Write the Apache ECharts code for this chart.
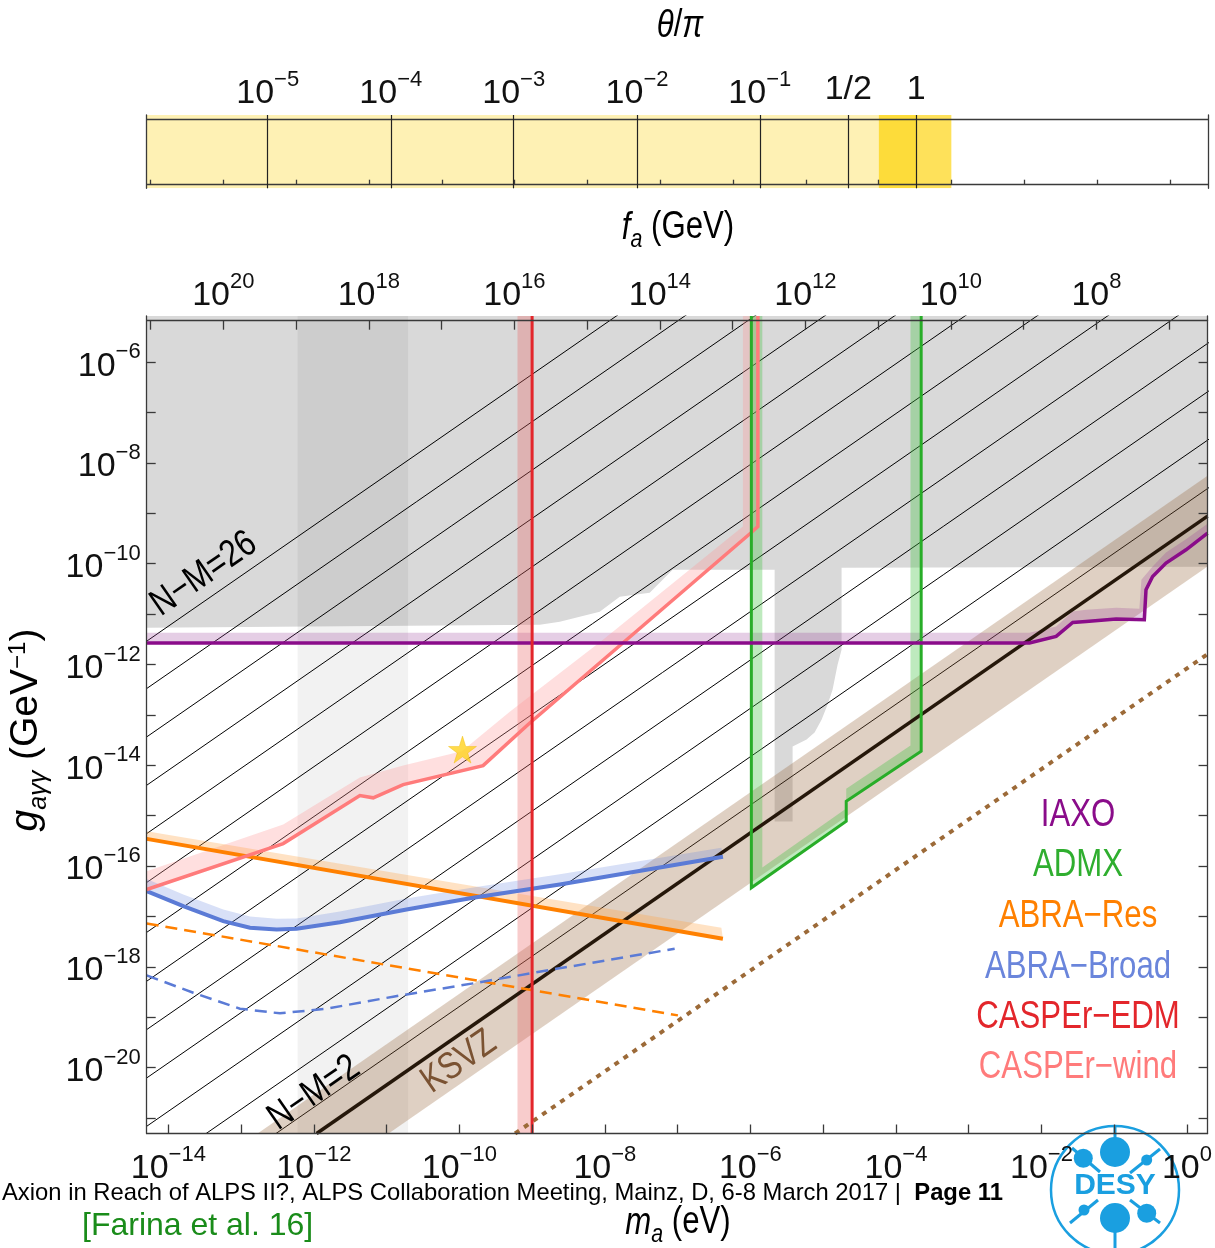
<!DOCTYPE html>
<html><head><meta charset="utf-8">
<script src="https://cdn.jsdelivr.net/npm/echarts@6/dist/echarts.min.js"></script>
<style>html,body{margin:0;padding:0;background:#fff}#c{width:1215px;height:1248px}</style>
</head><body><div id="c"></div>
<script>
// ---------- axis extents (log10 units) ----------
const X_MIN = -14.297, X_MAX = 0.283;      // log10(m_a / eV)
const Y_MIN = -21.31,  Y_MAX = -5.082;     // log10(g / GeV^-1)
const FA_SHIFT = 6.756;                    // log10(f_a/GeV) = FA_SHIFT - log10(m_a/eV)

// ---------- tick values ----------
const X_TICKS  = [-14,-13,-12,-11,-10,-9,-8,-7,-6,-5,-4,-3,-2,-1,0];
const X_LABELS = [-14,-12,-10,-8,-6,-4,-2,0];
const Y_TICKS  = [-21,-20,-19,-18,-17,-16,-15,-14,-13,-12,-11,-10,-9,-8,-7,-6];
const Y_LABELS = [-20,-18,-16,-14,-12,-10,-8,-6];
const FA_TICKS = [7,8,9,10,11,12,13,14,15,16,17,18,19,20,21];
const FA_LABELS = [8,10,12,14,16,18,20];
const THETA_TICK_POS  = [-12.635,-10.945,-9.256,-7.563,-5.877,-4.661,-3.727];
const THETA_TICK_TEXT = ['10^-5','10^-4','10^-3','10^-2','10^-1','1/2','1'];
const THETA_FILL = [[-14.297,-4.243],[-4.243,-3.727],[-3.727,-3.246]];

// ---------- data (log10 m_a, log10 g) ----------
const GRAY_EXCLUDED = [[-14.297,-5.082],[0.283,-5.082],[0.283,-10.060],[-4.747,-10.080],[-4.747,-11.706],[-4.802,-12.003],[-4.871,-12.499],[-4.940,-12.797],[-5.022,-13.095],[-5.118,-13.352],[-5.228,-13.491],[-5.420,-13.626],[-5.420,-15.117],[-5.667,-15.117],[-5.667,-10.119],[-7.068,-10.119],[-7.110,-10.179],[-7.384,-10.576],[-7.796,-10.655],[-8.071,-10.952],[-8.346,-11.052],[-8.620,-11.151],[-8.895,-11.210],[-14.297,-11.270]];
const GRAY_STRIP = [-12.223,-10.704];
const NM_VALUES = [2,4,6,8,10,12,14,16,18,20,22,24,26];
const NM_LINE_OFFSETS = [-8.79,-7.83,-6.87,-5.91,-4.95,-3.99,-3.02,-2.03,-1.06,-0.10,0.86,1.82,2.76];
const KSVZ_LINE = [[-11.962,-21.31],[0.283,-9.054]];
const KSVZ_BAND = [[-12.773,-21.31],[0.283,-8.254],[0.283,-10.054],[-10.973,-21.31]];
const DOTTED_LINE = [[-9.234,-21.31],[0.283,-11.793]];
const IAXO = [[-14.297,-11.573],[-2.165,-11.573],[-1.798,-11.442],[-1.570,-11.165],[-1.386,-11.145],[-0.974,-11.097],[-0.586,-11.111],[-0.563,-10.516],[-0.472,-10.252],[-0.288,-9.986],[-0.013,-9.723],[0.283,-9.391]];
const IAXO_BAND_UPPER = [[-14.297,-11.369],[-2.165,-11.369],[-1.798,-11.244],[-1.570,-10.946],[-1.386,-10.913],[-0.974,-10.873],[-0.654,-10.893],[-0.626,-10.318],[-0.472,-10.054],[-0.288,-9.776],[-0.013,-9.514],[0.283,-9.207]];
const EDM_MASS = -9.0;
const EDM_BAND = [-9.201,-9.0];
const WIND_LINE = [[-14.297,-16.466],[-12.421,-15.554],[-11.367,-14.602],[-11.184,-14.647],[-10.772,-14.384],[-9.674,-14.007],[-9.032,-13.160],[-5.987,-9.380],[-5.897,-9.261],[-5.897,-5.082]];
const WIND_BAND_UPPER = [[-14.297,-16.103],[-12.421,-15.177],[-11.367,-14.245],[-10.772,-14.007],[-9.966,-13.723],[-9.307,-12.936],[-8.026,-11.508],[-6.103,-9.261],[-6.103,-5.082]];
const ADMX_LINE = [[-5.987,-5.082],[-5.987,-16.432],[-4.683,-15.111],[-4.683,-14.715],[-3.653,-13.723],[-3.653,-5.082]];
const ADMX_BAND_INNER = [[-5.836,-5.082],[-5.836,-16.03],[-4.683,-14.86],[-4.683,-14.465],[-3.800,-13.61],[-3.800,-5.082]];
const ABRA_RES = [[-14.297,-15.461],[-6.378,-17.444]];
const ABRA_RES_BAND_UPPER = [[-14.297,-15.310],[-6.399,-17.226]];
const ABRA_RES_FUTURE = [[-14.297,-17.140],[-6.996,-18.965]];
const ABRA_BROAD = [[-14.297,-16.500],[-13.794,-16.797],[-13.245,-17.095],[-12.878,-17.226],[-12.511,-17.259],[-12.237,-17.245],[-11.642,-17.115],[-10.726,-16.863],[-9.811,-16.631],[-8.620,-16.367],[-6.377,-15.817]];
const ABRA_BROAD_BAND_UPPER = [[-14.297,-16.256],[-13.794,-16.565],[-13.245,-16.863],[-12.878,-17.002],[-12.511,-17.047],[-12.237,-17.041],[-11.642,-16.902],[-10.726,-16.645],[-9.811,-16.426],[-8.620,-16.164],[-6.399,-15.639]];
const ABRA_BROAD_FUTURE = [[-14.297,-18.172],[-13.657,-18.515],[-13.015,-18.832],[-12.466,-18.925],[-11.824,-18.832],[-10.910,-18.594],[-9.811,-18.330],[-8.712,-18.053],[-7.041,-17.642]];
const STAR = [-9.957,-13.689];
const LEGEND_NAMES = ['IAXO','ADMX','ABRA\u2212Res','ABRA\u2212Broad','CASPEr\u2212EDM','CASPEr\u2212wind'];

// ---------- styles ----------
const FONT = '"Liberation Sans",Arial,sans-serif';
const NARROW = 0.82;
const AX = '#3a3a3a';
const C = {
  gray:'#d9d9d9', strip:'rgba(0,0,0,0.05)',
  iaxo:'#8a0c8a', iaxoBand:'rgba(150,60,150,0.25)',
  edm:'#e3262b', edmBand:'rgba(235,100,100,0.33)',
  wind:'#ff7b7b', windBand:'rgba(255,150,150,0.3)',
  admx:'#28ad28', admxBand:'rgba(70,195,70,0.35)',
  res:'#ff8000', resBand:'rgba(255,165,70,0.32)',
  broad:'#5b7bd6', broadBand:'rgba(100,130,225,0.25)',
  ksvzBand:'rgba(150,100,55,0.3)', ksvz:'#25170a', dotted:'#9c6a38',
  star:'#ffd21e'
};
const LEGEND_COLORS = [C.iaxo, '#2fae2f', C.res, '#6a85db', C.edm, C.wind];

const TICK_RICH = {
  b:{fontFamily:FONT,fontSize:34,lineHeight:42,verticalAlign:'bottom',color:'#111'},
  s:{fontFamily:FONT,fontSize:22,lineHeight:25,verticalAlign:'top',color:'#111'},
  p:{fontFamily:FONT,fontSize:34,lineHeight:42,color:'#111'}
};
function pow10(e){ e=Math.round(e); return '{b|10}{s|'+(e<0?'\u2212'+(-e):String(e))+'}'; }
function thetaLabel(v){
  let bi=0; THETA_TICK_POS.forEach((p,i)=>{ if(Math.abs(p-v)<Math.abs(THETA_TICK_POS[bi]-v)) bi=i; });
  const t=THETA_TICK_TEXT[bi];
  if(t.startsWith('10^')) return pow10(parseFloat(t.slice(3)));
  return '{p|'+t+'}';
}

function poly(points, fill, z, xi, yi){
  return {type:'custom', xAxisIndex:xi||0, yAxisIndex:yi||0, silent:true, clip:true, z:z,
    data:[points[0]],
    renderItem:(params,api)=>({type:'polygon', shape:{points:points.map(p=>api.coord(p))}, style:{fill:fill}})};
}
function rectX(range, ymin, ymax, fill, z, xi, yi){
  return poly([[range[0],ymin],[range[1],ymin],[range[1],ymax],[range[0],ymax]], fill, z, xi, yi);
}
function band(upper, lower, fill, z){ return poly(upper.concat(lower.slice().reverse()), fill, z); }
function line(points, color, width, z, type){
  return {type:'line', xAxisIndex:0, yAxisIndex:0, data:points, showSymbol:false, symbol:'none', silent:true, clip:true, z:z,
    lineStyle:{color:color, width:width, type:type||'solid', cap:'butt', join:'miter'}};
}

const series = [];
const thetaColors = ['#fef1b4','#fddc3a','#fee15a'];
THETA_FILL.forEach((r,i)=>series.push(rectX(r,0,1,thetaColors[i],1,2,2)));
series.push(poly(GRAY_EXCLUDED, C.gray, 1));
series.push(rectX(GRAY_STRIP, Y_MIN, Y_MAX, C.strip, 2));
NM_LINE_OFFSETS.forEach(c=>series.push(line([[X_MIN-3, X_MIN-3+c],[X_MAX+3, X_MAX+3+c]], '#000', 1, 3)));
series.push(poly(KSVZ_BAND, C.ksvzBand, 4));
series.push(line(KSVZ_LINE, C.ksvz, 3.5, 6));
series.push(line(DOTTED_LINE, C.dotted, 4, 6, [5,6]));
series.push(band(IAXO_BAND_UPPER, IAXO, C.iaxoBand, 5));
series.push(rectX(EDM_BAND, Y_MIN, Y_MAX, C.edmBand, 5));
series.push(band(WIND_BAND_UPPER, WIND_LINE, C.windBand, 5));
series.push(band(ADMX_LINE, ADMX_BAND_INNER, C.admxBand, 5));
series.push(band(ABRA_RES_BAND_UPPER, ABRA_RES, C.resBand, 5));
series.push(band(ABRA_BROAD_BAND_UPPER, ABRA_BROAD, C.broadBand, 5));
series.push(line(ABRA_RES_FUTURE, C.res, 2.5, 7, [12,7]));
series.push(line(ABRA_BROAD_FUTURE, C.broad, 2.5, 7, [12,7]));
series.push(line(ABRA_RES, C.res, 4, 8));
series.push(line(ABRA_BROAD, C.broad, 4, 8));
series.push(line(WIND_LINE, C.wind, 3.5, 8));
series.push(line(ADMX_LINE, C.admx, 3, 9));
series.push(line(IAXO, C.iaxo, 3.5, 9));
series.push(line([[EDM_MASS, Y_MIN],[EDM_MASS, Y_MAX]], C.edm, 3, 10));
series.push({type:'scatter', xAxisIndex:0, yAxisIndex:0, data:[STAR], silent:true, z:11,
  symbol:'path://M50,0 L61,35 L98,35 L68,57 L79,91 L50,70 L21,91 L32,57 L2,35 L39,35 Z',
  symbolSize:[28,27], itemStyle:{color:C.star, borderColor:'#f0b800', borderWidth:0.5}});

const lineAx = {show:true, onZero:false, lineStyle:{color:AX, width:1.3}};
const tickStyle = {color:AX, width:1.3};

const xAxis = [
  {type:'value', gridIndex:0, z:20, position:'bottom', min:X_MIN, max:X_MAX, axisLine:lineAx,
   axisTick:{show:true, inside:true, length:9, customValues:X_TICKS, lineStyle:tickStyle},
   axisLabel:{show:true, customValues:X_LABELS, interval:0, formatter:pow10, rich:TICK_RICH, margin:10},
   splitLine:{show:false}},
  {type:'value', gridIndex:0, z:20, position:'top', offset:-4.7, inverse:true, min:FA_SHIFT-X_MAX, max:FA_SHIFT-X_MIN, axisLine:lineAx,
   axisTick:{show:true, inside:true, length:9, customValues:FA_TICKS, lineStyle:tickStyle},
   axisLabel:{show:true, customValues:FA_LABELS, interval:0, formatter:pow10, rich:TICK_RICH, margin:8},
   splitLine:{show:false}},
  {type:'value', gridIndex:1, z:20, position:'top', min:X_MIN, max:X_MAX, axisLine:{show:false, onZero:false},
   axisTick:{show:true, inside:true, length:73.3, customValues:THETA_TICK_POS, lineStyle:{color:'#222', width:1.2}},
   axisLabel:{show:true, customValues:THETA_TICK_POS, interval:0, formatter:thetaLabel, rich:TICK_RICH, margin:4},
   splitLine:{show:false}},
  {type:'value', gridIndex:1, z:20, position:'top', offset:-4, min:X_MIN, max:X_MAX, axisLine:lineAx,
   axisTick:{show:false}, axisLabel:{show:false}, splitLine:{show:false}},
  {type:'value', gridIndex:1, z:20, position:'bottom', offset:-3.6, inverse:true, min:FA_SHIFT-X_MAX, max:FA_SHIFT-X_MIN, axisLine:lineAx,
   axisTick:{show:true, inside:true, length:5, customValues:FA_TICKS, lineStyle:tickStyle},
   axisLabel:{show:false}, splitLine:{show:false}}
];
const yAxis = [
  {type:'value', gridIndex:0, z:20, position:'left', min:Y_MIN, max:Y_MAX, axisLine:lineAx,
   axisTick:{show:true, inside:true, length:9, customValues:Y_TICKS, lineStyle:tickStyle},
   axisLabel:{show:true, customValues:Y_LABELS, interval:0, formatter:pow10, rich:TICK_RICH, margin:6},
   splitLine:{show:false}},
  {type:'value', gridIndex:0, z:20, position:'right', min:Y_MIN, max:Y_MAX, axisLine:lineAx,
   axisTick:{show:true, inside:true, length:9, customValues:Y_TICKS, lineStyle:tickStyle},
   axisLabel:{show:false}, splitLine:{show:false}},
  {type:'value', gridIndex:1, z:20, position:'left', min:0, max:1, axisLine:lineAx, axisTick:{show:false}, axisLabel:{show:false}, splitLine:{show:false}},
  {type:'value', gridIndex:1, z:20, position:'right', min:0, max:1, axisLine:lineAx, axisTick:{show:false}, axisLabel:{show:false}, splitLine:{show:false}}
];

const TR = {
  i:{fontFamily:FONT, fontStyle:'italic', fontSize:38, lineHeight:44, verticalAlign:'top', color:'#111'},
  n:{fontFamily:FONT, fontSize:38, lineHeight:44, verticalAlign:'top', color:'#111'},
  sb:{fontFamily:FONT, fontStyle:'italic', fontSize:26, lineHeight:30, verticalAlign:'bottom', color:'#111'},
  sp:{fontFamily:FONT, fontSize:24, lineHeight:26, verticalAlign:'top', color:'#111'}
};
const TRL = {
  i:{fontFamily:FONT, fontStyle:'italic', fontSize:39, lineHeight:45, verticalAlign:'top', color:'#111'},
  n:{fontFamily:FONT, fontSize:39, lineHeight:45, verticalAlign:'top', color:'#111'},
  sb:{fontFamily:FONT, fontStyle:'italic', fontSize:25, lineHeight:30, verticalAlign:'bottom', color:'#111'},
  sp:{fontFamily:FONT, fontSize:24, lineHeight:26, verticalAlign:'top', color:'#111'}
};
function txt(x,y,text,rich,extra){
  return Object.assign({type:'text', x:x, y:y, z:100, silent:true, scaleX:NARROW,
    style:{text:text, rich:rich, align:'center', verticalAlign:'middle'}}, extra||{});
}
const graphic = [
  txt(680, 29, '{i|\u03b8}{n|/}{i|\u03c0}', TR),
  txt(678, 231, '{i|f}{sb|a}{n| (GeV)}', TR),
  txt(678, 1226, '{i|m}{sb|a}{n| (eV)}', TR),
  txt(29, 730, '{i|g}{sb|a\u03b3\u03b3}{n| (GeV}{sp|\u22121}{n|)}', TRL, {rotation:Math.PI/2, scaleX:1})
];
const legendY = [816, 866, 917, 968, 1018, 1068];
LEGEND_NAMES.forEach((nm,i)=>graphic.push({type:'text', x:1078, y:legendY[i], z:100, silent:true, scaleX:NARROW,
  style:{text:nm, fill:LEGEND_COLORS[i], font:'38px '+FONT, align:'center', verticalAlign:'middle'}}));
const ang = Math.atan(50.42/72.81);
function slanted(x,y,text,color){
  return {type:'text', x:x, y:y, rotation:ang, scaleX:NARROW, z:100, silent:true,
    style:{text:text, fill:color, font:'38px '+FONT, align:'center', verticalAlign:'middle'}};
}
graphic.push(slanted(204, 574, 'N\u2212M='+NM_VALUES[NM_VALUES.length-1], '#000'));
graphic.push(slanted(314, 1093, 'N\u2212M='+NM_VALUES[0], '#000'));
graphic.push(slanted(459, 1062, 'KSVZ', '#7a5232'));
// footer
graphic.push({type:'text', x:2, y:1193, z:100, silent:true,
  style:{text:'{n|Axion in Reach of ALPS II?, ALPS Collaboration Meeting, Mainz, D, 6-8 March 2017 |  }{b|Page 11}',
    align:'left', verticalAlign:'middle',
    rich:{n:{fontFamily:FONT, fontSize:23.8, color:'#8a8a8a'}, b:{fontFamily:FONT, fontSize:23.8, fontWeight:'bold', color:'#8a8a8a'}}}});
graphic.push({type:'text', x:82, y:1226, z:100, silent:true,
  style:{text:'[Farina et al. 16]', fill:'#1a8c1a', font:'32px '+FONT, align:'left', verticalAlign:'middle'}});
// DESY logo
const DB = '#1a9fe0';
graphic.push({type:'group', x:1115, y:1190, z:120, silent:true, children:[
  {type:'circle', shape:{cx:0, cy:0, r:64}, style:{fill:'none', stroke:DB, lineWidth:2.5}},
  {type:'line', shape:{x1:-43, y1:-42, x2:-15, y2:-18}, style:{stroke:DB, lineWidth:3}},
  {type:'line', shape:{x1:45, y1:-41, x2:15, y2:-17}, style:{stroke:DB, lineWidth:3}},
  {type:'line', shape:{x1:-45, y1:33, x2:-17, y2:10}, style:{stroke:DB, lineWidth:3}},
  {type:'line', shape:{x1:45, y1:33, x2:15, y2:10}, style:{stroke:DB, lineWidth:3}},
  {type:'line', shape:{x1:0, y1:-65, x2:0, y2:-50}, style:{stroke:DB, lineWidth:3}},
  {type:'line', shape:{x1:0, y1:40, x2:0, y2:60}, style:{stroke:DB, lineWidth:3}},
  {type:'circle', shape:{cx:0, cy:-38, r:15}, style:{fill:DB}},
  {type:'circle', shape:{cx:0, cy:28, r:15}, style:{fill:DB}},
  {type:'circle', shape:{cx:-31.7, cy:-31.7, r:9.5}, style:{fill:DB}},
  {type:'circle', shape:{cx:31.7, cy:23.3, r:9.5}, style:{fill:DB}},
  {type:'circle', shape:{cx:31.7, cy:-30, r:5.5}, style:{fill:DB}},
  {type:'circle', shape:{cx:-31, cy:20, r:5.5}, style:{fill:DB}},
  {type:'text', x:0, y:-4, style:{text:'DESY', fill:DB, font:'bold 30px '+FONT, align:'center', verticalAlign:'middle'}}
]});

const chart = echarts.init(document.getElementById('c'), null, {renderer:'canvas'});
chart.setOption({
  animation:false,
  backgroundColor:'#fff',
  grid:[
    {left:146.7, right:6.7, top:316, bottom:114.5, containLabel:false},
    {left:146.7, right:6.7, top:115, height:73.3, containLabel:false}
  ],
  xAxis:xAxis, yAxis:yAxis, series:series, graphic:graphic
});
</script></body></html>
